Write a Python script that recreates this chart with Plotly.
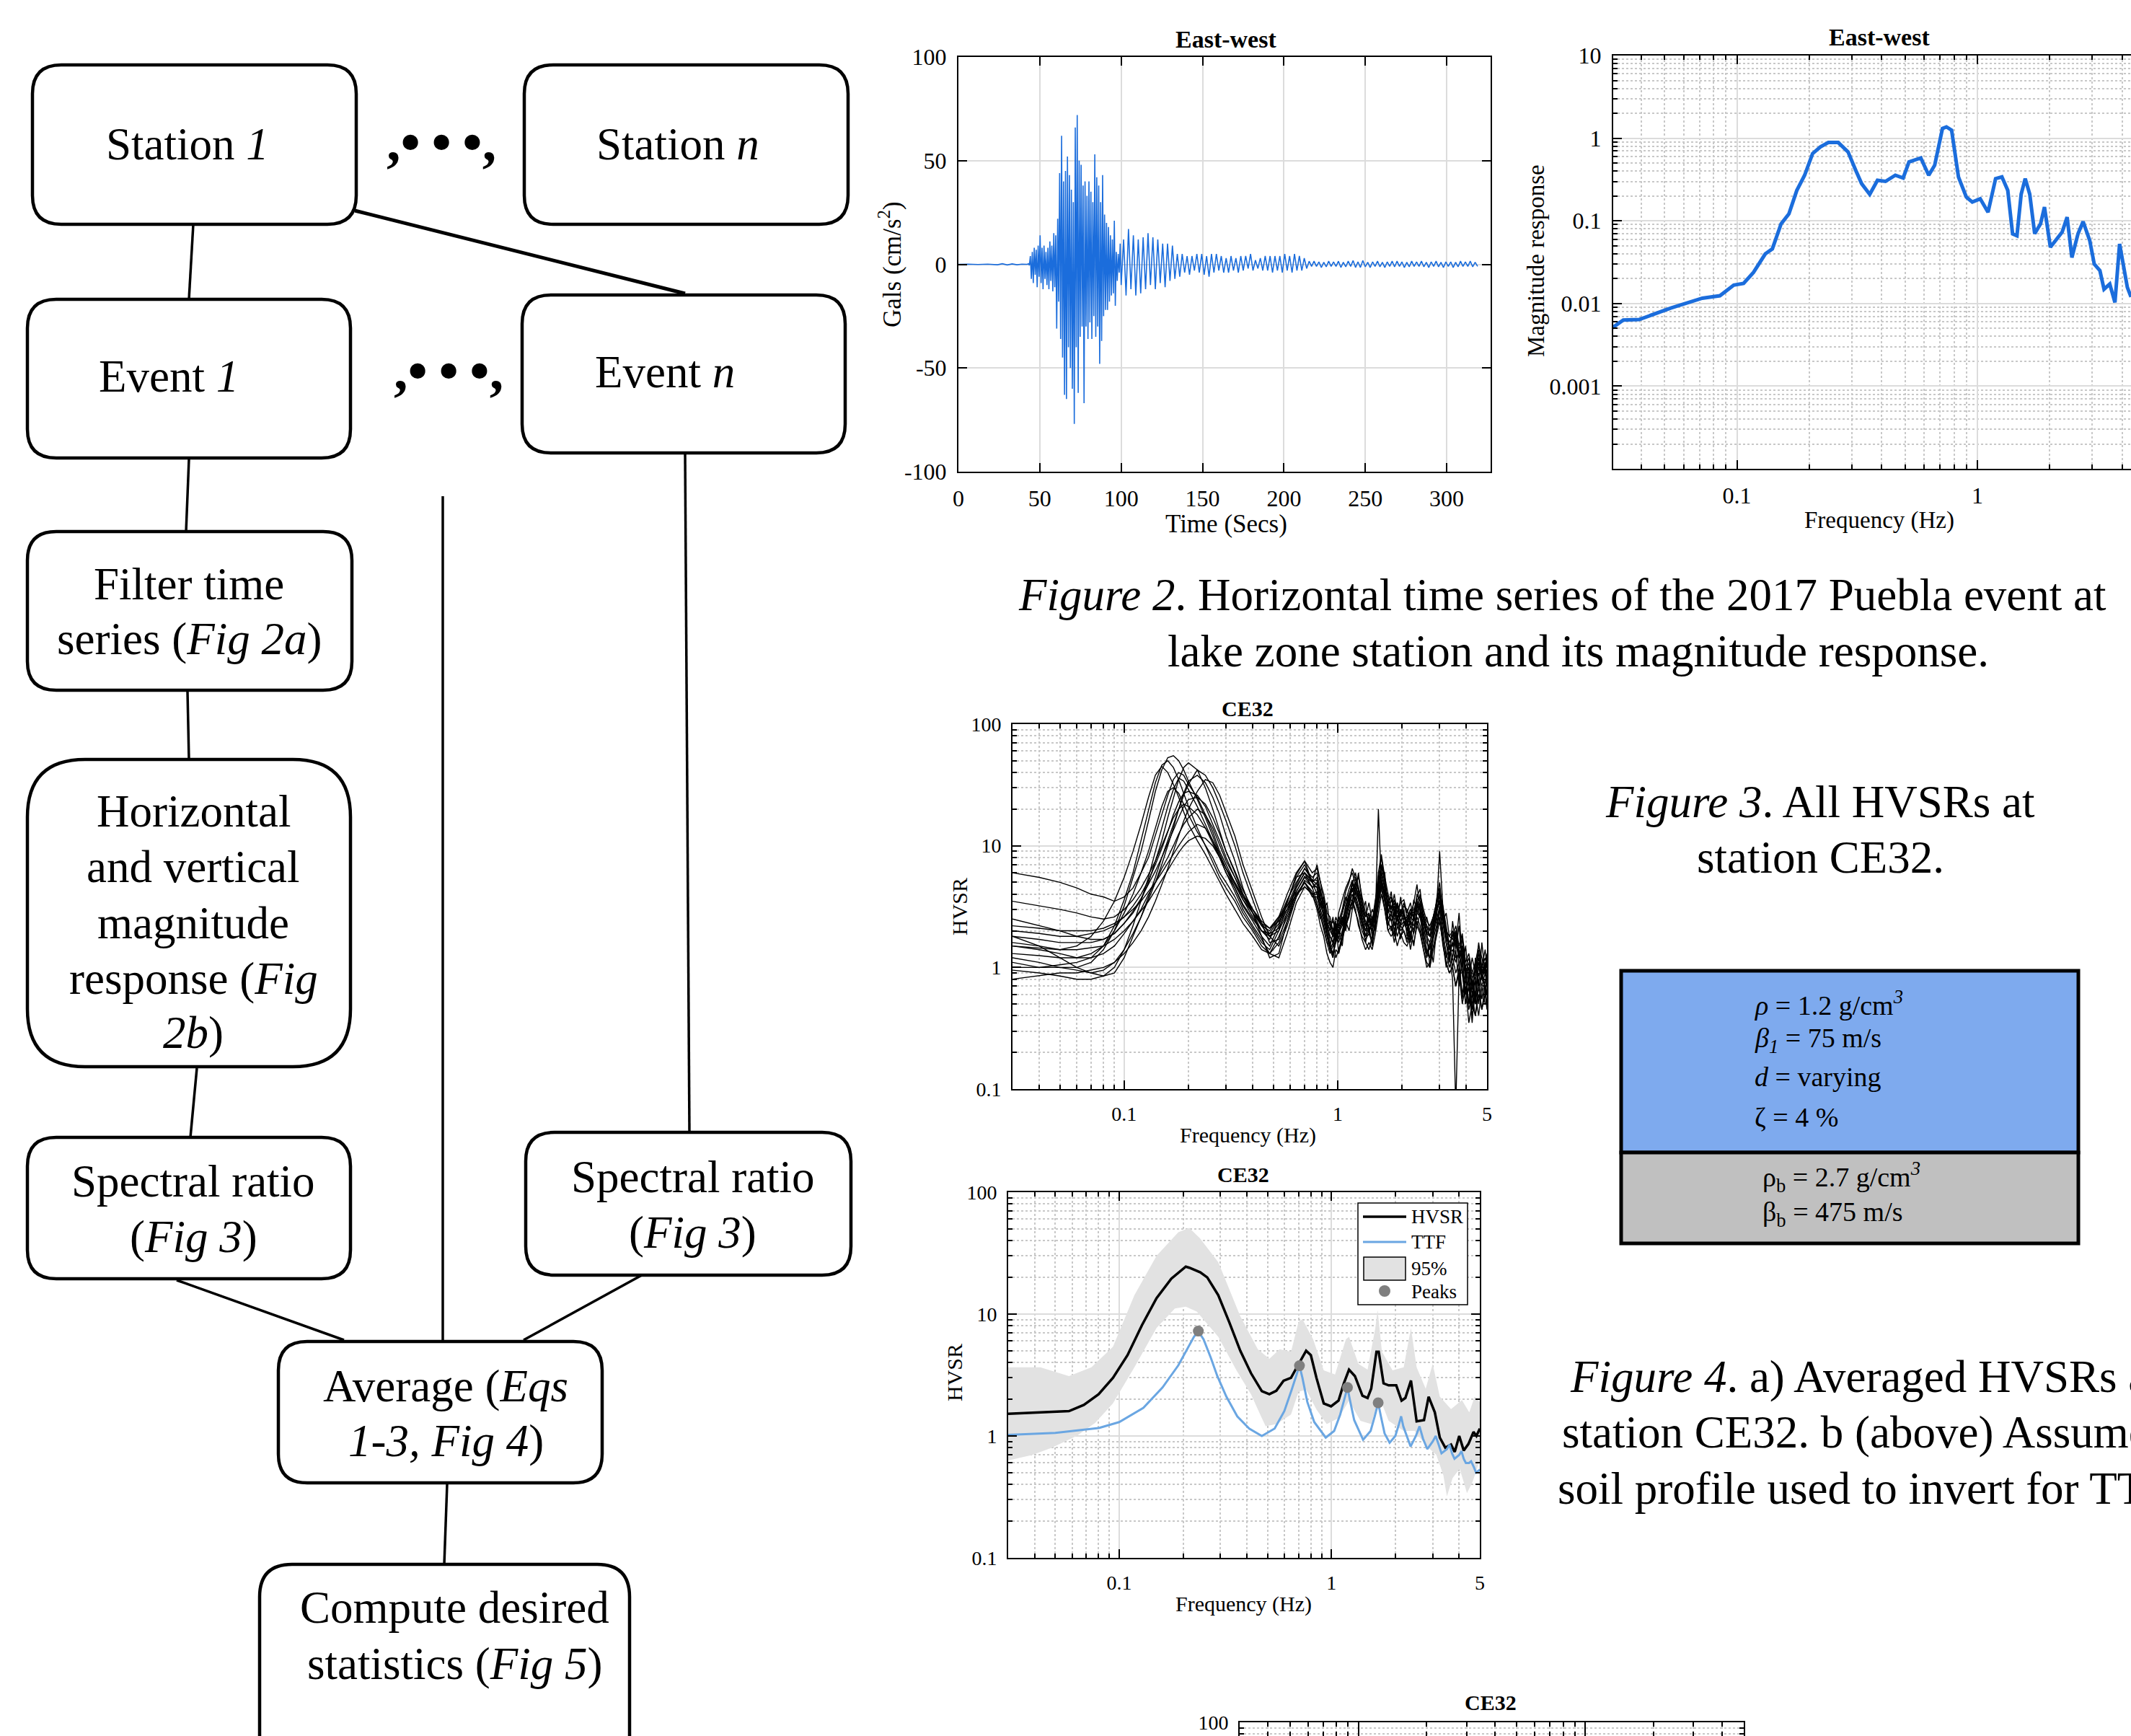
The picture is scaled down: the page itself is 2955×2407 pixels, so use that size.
import numpy as np
import plotly.graph_objects as go

W, H = 2955, 2407
SERIF = "Liberation Serif"
BLUE = "#1b6ddc"
TTF_BLUE = "#6aa6e2"
BAND_GREY = "#e2e2e2"
PEAK_GREY = "#7f7f7f"
GRID = "#dcdcdc"
MINOR_GRID = "#c8c8c8"


def X(px):
    return px / W


def Y(py):
    return 1 - py / H


# ---------------- Figure 2a: east-west acceleration record (cm/s^2) ----------------
quiet_t = [0, 6, 12, 18, 24, 27, 30, 33, 36, 39, 42.4]
quiet_acc = [0, 0.1, -0.1, 0.1, -0.2, 0.3, -0.3, 0.2, -0.2, 0.1, 0]

burst_t0, burst_dt = 43.0, 0.6
burst_acc = [0.3, -0.5, 4, -7, 6, -9, 8, -5, 7, -11, 9, -6,
             14, -9, 8, -12, 9, -7, 6, -10, 8, -12, 11, -8, 9, -13, 15, -11, 14,
             -31, 22, -18, 44, -36, 62, -45, 40, -63, 45, -65, 52, -40, 43, -50, 36,
             -60, 30, -77, 66, -40, 72, -62, 50, -35, 48, -30, 38, -67, 40, -30, 33,
             -36, 40, -28, 35, -36, 30, -25, 53, -35, 42, -30, 38, -48, 30, -37, 43,
             -25, 24, -22, 20, -22, 18, -18, 14, -15, 12, -14, 21, -20, 6, -8, 5, -4, 10]

coda_t0, coda_dt = 100.0, 1.5
coda_acc = [-10, 12, -15, 17, -12, 14, -15, 12, -14, 13, -12, 15, -10, 13, -12, 12,
            -9, 10, -11, 10, -8, 9, -7, 5, -6, 5, -4, 4, -5, 4, -3, 5, -4, 5, -5, 4,
            -6, 5, -4, 5, -3, 4, -4, 3, -4, 4, -3, 3, -4, 4, -3, 4, -2, 5, -3, 2, -2,
            3, -3, 4, -3, 4, -4, 4, -3, 4, -4, 5, -3, 4, -4, 5, -3, 4, -3, 3, -2,
            1.5, -1, 1.5, -1, 1.2, -1.5, 1, -1.2, 1.5, -1, 1.2, -1, 1.5, -1.5, 1,
            -1.2, 1.5, -1, 1.8, -1.5, 1.2, -1.5, 1.8, -1.2, 1, -1.5, 1.2, -1, 1.5,
            -1.2, 1, -1.5, 1.2, -1, 1.5, -1.2, 1.5, -1, 1.2, -1.5, 1, -1.2, 1.5, -1,
            1.2, -1, 1.5, -1.2, 1, -1.5, 1.2, -1, 1.5, -1.2, 1, -1.5, 1.2, -1, 1.2,
            -1.5, 1, -1.2, 1.5, -1, 1.2, -1, 1.5, -1.2, 1, -1]

time_s = np.concatenate([
    quiet_t,
    burst_t0 + burst_dt * np.arange(len(burst_acc)),
    coda_t0 + coda_dt * np.arange(len(coda_acc)),
])
accel = np.concatenate([quiet_acc, burst_acc, coda_acc])
keep = time_s <= 327
time_s, accel = time_s[keep], accel[keep]

# ---------------- Figure 2b: magnitude response ----------------
freq_mag = [0.0301, 0.0337, 0.0392, 0.0531, 0.0718, 0.085, 0.097, 0.1066, 0.1172,
            0.1312, 0.1404, 0.1526, 0.1645, 0.1774, 0.1912, 0.2064, 0.2226, 0.240,
            0.2638, 0.2898, 0.312, 0.330, 0.3567, 0.384, 0.4147, 0.4556, 0.491,
            0.5193, 0.5815, 0.6273, 0.664, 0.7155, 0.7433, 0.781, 0.834, 0.899,
            0.952, 1.027, 1.107, 1.19, 1.264, 1.337, 1.40, 1.46, 1.52, 1.58, 1.65,
            1.73, 1.83, 1.90, 2.01, 2.13, 2.25, 2.36, 2.47, 2.62, 2.75, 2.93, 3.06,
            3.23, 3.36, 3.55, 3.73, 3.90, 4.05, 4.2, 4.35]
mag_resp = [0.005, 0.0063, 0.0064, 0.0088, 0.0116, 0.0124, 0.0167, 0.0175, 0.0238,
            0.0398, 0.0457, 0.092, 0.1216, 0.233, 0.356, 0.652, 0.785, 0.886, 0.886,
            0.682, 0.408, 0.282, 0.209, 0.309, 0.30, 0.356, 0.33, 0.516, 0.577,
            0.356, 0.47, 1.31, 1.37, 1.25, 0.339, 0.194, 0.169, 0.185, 0.127, 0.324,
            0.34, 0.234, 0.0695, 0.066, 0.21, 0.324, 0.21, 0.07, 0.092, 0.147, 0.048,
            0.06, 0.073, 0.111, 0.036, 0.07, 0.098, 0.058, 0.030, 0.025, 0.0149,
            0.0172, 0.0103, 0.0525, 0.03, 0.0157, 0.012]

# ---------------- Figure 3: HVSR of every event at CE32 ----------------
F_EV_LOW = [0.03, 0.04, 0.05, 0.06, 0.07, 0.08, 0.09, 0.10,
            0.11, 0.12, 0.13, 0.14, 0.15, 0.16, 0.17, 0.18, 0.19, 0.20,
            0.22, 0.24, 0.26, 0.28, 0.30,
            0.33, 0.36, 0.40, 0.44, 0.48,
            0.53, 0.58, 0.64, 0.70, 0.76]
F_EV_HIGH = [0.80, 0.83, 0.86, 0.89, 0.92, 0.95, 0.98,
             1.01, 1.05, 1.09, 1.13, 1.17, 1.21, 1.25,
             1.30, 1.35, 1.40, 1.45, 1.50, 1.55, 1.60,
             1.66, 1.72, 1.78, 1.84, 1.90, 1.97, 2.04,
             2.11, 2.19, 2.27, 2.35, 2.43, 2.52, 2.61,
             2.70, 2.80, 2.90, 3.00, 3.11, 3.22, 3.33,
             3.45, 3.57, 3.70, 3.83, 3.97, 4.11, 4.26,
             4.41, 4.57, 4.73, 4.90, 5.00]

HVSR_LOW = [
    [1.2, 1.1, 1.0, 1.0, 1.1, 1.4, 2.0, 3.2, 5.5, 9, 16, 28, 42, 53, 55, 50, 42, 34,
     24, 17, 12, 8.5, 6.5, 4.5, 3.2, 2.4, 1.8, 1.5, 2.2, 3.5, 5.5, 7, 5],
    [2.5, 2.2, 2.0, 1.8, 1.7, 1.7, 1.9, 2.3, 2.8, 3.6, 5, 7.5, 11, 17, 25, 35, 44, 48,
     42, 30, 20, 13, 9, 6, 4, 2.8, 2, 1.7, 2.5, 3.2, 4.8, 6.5, 5.5],
    [1.5, 1.4, 1.3, 1.2, 1.2, 1.3, 1.5, 1.9, 2.4, 3, 4, 5, 6.5, 8, 10, 12.5, 15, 17,
     20, 18, 14, 10, 7.5, 5.5, 4, 3, 2.2, 1.8, 2.0, 2.8, 4, 5, 4.2],
    [6, 5.5, 5, 4.5, 4, 3.8, 3.5, 3.8, 4.5, 6, 8, 12, 18, 26, 35, 40, 38, 32,
     25, 18, 13, 9, 7, 5, 3.6, 2.6, 2, 1.8, 2.3, 3.5, 5.5, 6, 4.5],
    [0.8, 0.85, 0.9, 0.9, 0.95, 1.0, 1.1, 1.3, 1.6, 2, 2.6, 3.5, 4.8, 6.5, 9, 12, 16, 20,
     28, 35, 33, 26, 19, 12, 7, 4.2, 2.6, 1.8, 1.5, 2.2, 3.8, 5, 4],
    [2, 1.9, 1.8, 1.8, 1.9, 2.0, 2.2, 2.6, 3.2, 4, 5.2, 7, 9.5, 13, 18, 23, 27, 28,
     26, 21, 15, 11, 8, 5.5, 3.8, 2.8, 2.2, 2, 2.6, 4, 6, 7.5, 6],
    [1.0, 1.0, 1.05, 1.1, 1.2, 1.5, 2.2, 3.6, 6, 11, 20, 33, 46, 50, 44, 35, 27, 21,
     14, 10, 7.5, 5.5, 4.5, 3.5, 2.6, 2.0, 1.5, 1.3, 1.8, 2.6, 4, 5, 3.8],
    [1.5, 1.45, 1.4, 1.4, 1.45, 1.5, 1.7, 2.0, 2.4, 2.9, 3.5, 4.3, 5.2, 6.3, 7.5, 8.8, 10, 11,
     12, 11.5, 10, 8, 6.5, 5, 3.8, 3, 2.4, 2.1, 2.4, 3, 4, 4.6, 4],
    [1.8, 1.5, 1.2, 1.0, 0.9, 0.85, 0.9, 1.2, 1.8, 2.6, 3.8, 5.5, 8, 11, 15, 20, 26, 32,
     42, 38, 30, 22, 16, 10, 6, 3.6, 2.3, 1.6, 1.7, 2.8, 4.5, 6, 5],
    [3.5, 3.2, 3, 2.8, 2.6, 2.5, 2.6, 3, 3.6, 4.5, 5.8, 7.5, 10, 13, 17, 20, 22, 21,
     18, 14, 10.5, 8, 6, 4.5, 3.3, 2.5, 2, 1.9, 2.5, 3.6, 5, 6.5, 5.2],
    [1.3, 1.25, 1.2, 1.2, 1.3, 1.5, 2.0, 2.8, 4, 6, 9, 14, 21, 28, 30, 27, 22, 18,
     13, 10, 8, 6, 5, 3.8, 2.8, 2.1, 1.6, 1.4, 2, 3.4, 5.8, 7.5, 5],
    [1.1, 1.0, 1.0, 0.95, 0.9, 0.95, 1.1, 1.4, 1.9, 2.6, 3.6, 5, 7, 10, 14, 20, 27, 34,
     38, 33, 25, 18, 12, 7.5, 4.5, 2.8, 1.8, 1.2, 1.3, 2.4, 4.2, 5.5, 4.6],
    [1.6, 1.5, 1.4, 1.5, 1.8, 2.4, 3.5, 5.5, 9, 15, 25, 38, 45, 40, 32, 25, 19, 15,
     11, 8.5, 6.5, 5, 4, 3, 2.3, 1.8, 1.4, 1.3, 1.6, 2.4, 3.8, 5.2, 4.6],
    [2.2, 2.1, 2.0, 2.0, 2.0, 2.1, 2.3, 2.6, 3.0, 3.5, 4.2, 5.0, 6.0, 7.2, 8.6, 10, 11.5, 13,
     15, 14, 11, 8.5, 6.5, 4.8, 3.6, 2.8, 2.3, 2.1, 2.6, 3.2, 4.2, 5.6, 5.0],
    [0.95, 0.9, 0.85, 0.8, 0.8, 0.85, 1.0, 1.4, 2.2, 3.5, 5.5, 9, 14, 21, 29, 36, 34, 29,
     21, 15, 11, 8, 6, 4.2, 3.0, 2.2, 1.7, 1.3, 1.2, 1.9, 3.4, 4.6, 4.0],
    [1.8, 1.7, 1.6, 1.6, 1.6, 1.7, 1.9, 2.3, 2.9, 3.7, 4.8, 6.2, 8, 10.5, 13.5, 17, 21, 24,
     25, 22, 17, 12.5, 9, 6.2, 4.3, 3.0, 2.3, 1.9, 2.1, 3.0, 4.6, 6.0, 5.2],
]

HVSR_HIGH = [
    [4.5, 3.2, 3.8, 2.4, 2.0, 2.6, 1.6, 2.0, 1.5, 2.8, 3.6, 5.2, 4.0, 6.0,
     3.5, 2.2, 2.8, 1.8, 3.2, 5.5, 8.0, 5.0, 3.2, 4.2, 2.6, 3.4, 2.2, 3.0,
     1.8, 2.6, 3.4, 4.8, 2.9, 2.0, 1.4, 1.2, 2.2, 3.6, 5.0, 2.6, 1.6, 1.1,
     2.4, 1.5, 2.8, 1.2, 0.6, 0.9, 0.45, 1.2, 0.7, 1.6, 0.9, 1.3],
    [6.0, 4.2, 3.0, 3.4, 2.2, 1.8, 2.2, 1.7, 2.6, 2.2, 4.0, 3.4, 5.5, 4.2,
     2.8, 3.5, 1.9, 2.5, 2.0, 4.2, 6.5, 6.0, 2.8, 3.6, 3.0, 2.4, 3.8, 2.5,
     2.6, 1.6, 2.8, 3.8, 4.4, 2.4, 2.0, 1.0, 1.8, 2.6, 4.2, 3.2, 2.2, 1.5,
     1.2, 2.0, 1.0, 1.8, 0.9, 0.5, 0.8, 0.5, 1.4, 0.8, 1.1, 0.7],
    [3.2, 2.5, 2.8, 2.0, 1.5, 1.9, 2.4, 1.3, 1.9, 2.4, 2.0, 3.0, 3.8, 3.1,
     2.4, 1.6, 2.2, 1.5, 2.4, 3.4, 4.8, 3.6, 2.2, 2.8, 2.0, 2.6, 1.7, 2.4,
     2.2, 1.4, 2.0, 2.8, 3.4, 1.8, 1.3, 1.6, 1.1, 2.0, 3.0, 2.0, 1.2, 1.5,
     1.0, 1.4, 0.7, 1.2, 0.5, 0.7, 0.35, 0.8, 0.5, 1.0, 0.6, 0.8],
    [5.0, 4.4, 3.0, 2.0, 1.4, 1.2, 1.7, 2.4, 3.0, 4.2, 5.0, 6.5, 5.4, 4.4,
     3.2, 2.6, 3.4, 2.4, 3.6, 5.0, 7.0, 5.5, 4.0, 3.0, 4.0, 2.8, 3.4, 3.6,
     2.8, 3.4, 2.4, 4.0, 3.5, 2.6, 2.2, 1.8, 2.4, 3.0, 3.5, 2.4, 2.8, 1.8,
     2.0, 1.4, 2.2, 1.0, 1.5, 0.8, 1.2, 0.9, 1.6, 1.0, 1.4, 1.0],
    [4.0, 2.8, 2.2, 1.6, 1.5, 1.3, 1.8, 1.9, 2.2, 2.8, 3.4, 4.5, 3.5, 3.0,
     2.2, 1.8, 2.0, 1.6, 2.5, 3.8, 5.5, 4.0, 2.6, 2.4, 1.8, 2.6, 2.0, 2.2,
     2.4, 1.8, 2.6, 2.2, 2.8, 1.6, 1.2, 1.5, 1.8, 2.8, 2.5, 1.6, 1.0, 1.3,
     0.8, 0.07, 0.9, 0.9, 0.5, 0.7, 0.4, 0.6, 0.4, 0.7, 0.5, 0.5],
    [6.5, 5.0, 4.0, 2.8, 2.6, 2.0, 2.6, 2.2, 2.8, 3.8, 3.2, 5.0, 4.5, 5.6,
     3.8, 2.8, 2.4, 3.0, 2.6, 4.5, 6.0, 4.6, 3.8, 3.0, 3.6, 2.8, 2.6, 3.2,
     3.0, 2.2, 3.6, 3.0, 4.0, 3.0, 2.4, 2.2, 2.6, 3.4, 4.5, 2.6, 2.0, 1.6,
     1.8, 2.2, 1.5, 1.9, 1.1, 1.3, 0.9, 1.1, 1.5, 1.2, 0.9, 1.2],
    [3.8, 3.0, 2.4, 1.8, 1.4, 1.6, 1.2, 1.4, 1.8, 2.2, 2.6, 3.6, 3.0, 2.2,
     1.8, 1.6, 1.4, 1.8, 2.2, 3.2, 4.5, 3.0, 2.0, 2.2, 1.6, 2.2, 1.8, 2.0,
     1.6, 2.0, 1.5, 2.4, 2.0, 1.4, 1.0, 1.1, 1.5, 2.0, 2.6, 1.5, 1.1, 0.9,
     1.0, 0.7, 1.0, 0.55, 0.8, 0.45, 0.6, 0.4, 0.6, 0.45, 0.7, 0.5],
    [4.2, 3.6, 3.2, 2.4, 2.0, 1.8, 1.9, 2.0, 2.4, 2.0, 3.0, 3.6, 4.2, 3.6,
     2.8, 2.2, 2.0, 2.4, 3.0, 4.2, 5.0, 3.8, 3.0, 2.4, 2.8, 2.2, 2.8, 2.4,
     2.0, 2.4, 2.0, 3.0, 2.6, 2.2, 1.6, 1.4, 2.0, 2.4, 3.2, 2.2, 1.6, 1.3,
     1.4, 1.1, 1.4, 0.9, 1.0, 0.7, 0.8, 0.6, 0.9, 0.7, 0.9, 0.7],
    [5.5, 3.8, 2.6, 2.2, 1.8, 1.6, 2.2, 2.0, 1.8, 3.2, 4.0, 4.2, 5.0, 3.6,
     2.6, 2.0, 2.6, 2.0, 2.8, 4.6, 6.2, 4.4, 3.2, 3.2, 2.4, 3.2, 2.4, 2.8,
     2.2, 2.8, 3.0, 3.6, 2.6, 2.4, 1.8, 1.6, 2.2, 3.4, 3.8, 2.8, 1.8, 1.4,
     1.6, 1.9, 1.2, 1.4, 0.8, 1.0, 0.6, 0.8, 1.1, 0.8, 1.0, 0.8],
    [5.2, 4.0, 3.4, 2.6, 2.2, 2.4, 2.0, 2.6, 2.2, 3.0, 3.8, 4.8, 6.0, 4.6,
     3.4, 2.6, 2.8, 2.2, 3.0, 5.0, 6.8, 5.0, 3.4, 3.8, 2.8, 3.4, 2.8, 3.4,
     2.6, 3.0, 2.8, 3.6, 3.8, 2.8, 2.2, 2.0, 2.6, 3.2, 4.2, 3.0, 2.0, 1.8,
     1.7, 2.0, 1.4, 1.7, 1.0, 1.2, 0.8, 1.0, 1.3, 1.0, 1.2, 1.0],
    [7.0, 5.0, 3.4, 2.4, 1.6, 1.2, 1.8, 2.8, 3.6, 4.5, 5.2, 6.0, 4.8, 3.8,
     2.4, 1.8, 2.6, 2.2, 3.4, 6.0, 8.5, 5.5, 3.0, 2.8, 3.2, 2.6, 3.0, 2.6,
     2.2, 2.6, 2.4, 3.2, 3.0, 2.2, 2.6, 2.0, 2.6, 3.4, 4.0, 2.6, 1.9, 1.4,
     1.9, 1.6, 1.2, 1.5, 0.8, 1.0, 0.7, 0.9, 1.2, 0.8, 1.0, 0.8],
    [4.6, 3.5, 2.6, 1.9, 1.4, 1.3, 1.6, 2.0, 2.4, 3.2, 4.0, 4.8, 4.0, 3.2,
     2.4, 2.0, 2.0, 2.2, 2.5, 20, 5.0, 4.0, 2.5, 2.8, 2.2, 2.6, 2.2, 2.4,
     2.0, 2.4, 2.2, 2.8, 2.6, 1.8, 2.2, 1.8, 2.0, 3.0, 9.0, 3.0, 1.6, 1.2,
     1.6, 1.2, 1.3, 0.9, 0.6, 0.8, 0.5, 0.6, 1.0, 0.8, 0.7, 0.6],
    [3.4, 2.6, 2.0, 1.6, 1.3, 1.5, 1.9, 1.6, 2.0, 2.6, 3.2, 4.0, 3.4, 2.8,
     2.0, 1.7, 1.9, 1.6, 2.2, 3.6, 5.0, 3.4, 2.4, 2.0, 2.4, 1.8, 2.2, 2.0,
     1.7, 2.2, 1.9, 2.6, 2.2, 1.6, 1.3, 1.2, 1.7, 2.2, 3.0, 1.8, 1.3, 1.0,
     1.2, 0.9, 1.1, 0.6, 0.9, 0.5, 0.7, 0.5, 0.8, 0.55, 0.8, 0.6],
    [4.0, 3.2, 2.8, 2.2, 2.4, 1.9, 2.3, 2.1, 2.6, 2.4, 3.4, 3.0, 4.6, 4.0,
     3.0, 2.4, 2.2, 2.6, 2.8, 3.8, 5.2, 4.2, 3.4, 2.8, 3.2, 2.5, 2.9, 2.7,
     2.4, 2.8, 2.6, 3.3, 3.0, 2.6, 2.0, 1.8, 2.3, 2.9, 3.4, 2.4, 1.8, 1.5,
     1.5, 1.7, 1.2, 1.3, 1.0, 0.9, 0.9, 0.8, 1.1, 0.9, 1.0, 0.9],
    [3.0, 2.2, 1.8, 1.3, 1.1, 1.0, 1.4, 1.3, 1.7, 2.2, 2.8, 3.4, 2.8, 2.4,
     1.7, 1.4, 1.6, 1.4, 1.9, 2.8, 4.0, 3.0, 2.0, 1.8, 2.0, 1.5, 1.9, 1.6,
     1.5, 1.8, 1.6, 2.2, 1.9, 1.4, 1.1, 1.0, 1.4, 1.8, 2.4, 1.6, 1.1, 0.9,
     1.0, 0.7, 0.9, 0.5, 0.7, 0.35, 0.5, 0.4, 0.7, 0.45, 0.6, 0.45],
    [4.8, 3.6, 3.0, 2.2, 1.8, 1.6, 2.0, 2.2, 2.8, 3.4, 4.4, 5.2, 4.2, 3.8,
     2.8, 2.2, 2.4, 2.0, 2.8, 4.2, 6.0, 4.6, 3.4, 3.0, 3.4, 2.4, 3.0, 2.8,
     2.4, 3.0, 2.6, 3.4, 3.2, 2.4, 1.9, 1.8, 2.4, 3.0, 3.6, 2.6, 1.8, 1.5,
     1.5, 1.8, 1.3, 1.5, 0.9, 1.1, 0.7, 0.9, 1.2, 0.9, 1.1, 0.9],
]

# ---------------- Figure 4a: averaged HVSR, 95% band, theoretical TF ----------------
f_mean = [0.030, 0.0498, 0.058, 0.0682, 0.080, 0.0935, 0.1095, 0.128, 0.150, 0.176,
          0.206, 0.214, 0.241, 0.260, 0.293, 0.330, 0.372, 0.418, 0.470, 0.510,
          0.550, 0.595, 0.645, 0.700, 0.760, 0.800, 0.850, 0.920, 0.996, 1.08,
          1.144, 1.21, 1.29, 1.40, 1.48, 1.54, 1.63, 1.67, 1.76, 1.86,
          2.02, 2.14, 2.23, 2.37, 2.52, 2.73, 2.87, 3.07, 3.24, 3.44,
          3.66, 3.81, 4.0, 4.2, 4.42, 4.67, 4.82, 5.0]
hvsr_mean = [1.52, 1.58, 1.60, 1.80, 2.2, 3.0, 4.6, 8.1, 13.5, 19.5,
             24.5, 24, 22, 20, 14.3, 8.6, 5.0, 3.27, 2.33, 2.2,
             2.35, 2.84, 3.0, 3.88, 5.0, 4.6, 3.0, 1.85, 1.75, 1.95,
             2.7, 3.5, 3.1, 2.14, 2.05, 2.45, 4.9, 4.9, 2.7, 2.6,
             2.6, 1.95, 2.05, 2.85, 1.32, 1.35, 2.1, 1.56, 0.97, 0.8,
             0.85, 0.74, 1.0, 0.76, 0.86, 1.08, 1.0, 1.15]

f_upper = [0.030, 0.0425, 0.058, 0.074, 0.0935, 0.118, 0.150, 0.190, 0.214, 0.240,
           0.293, 0.372, 0.450, 0.510, 0.570, 0.645, 0.700, 0.730, 0.820, 0.920,
           1.04, 1.17, 1.21, 1.34, 1.48, 1.61, 1.65, 1.73, 1.94, 2.19,
           2.37, 2.52, 2.78, 3.0, 3.24, 3.66, 4.12, 4.46, 4.73, 5.0]
band_upper = [3.66, 3.66, 3.1, 3.66, 5.4, 14.3, 30, 47, 51, 42,
              26.7, 9.6, 5.15, 4.3, 5.15, 4.9, 8.6, 9.1, 6.2, 3.46,
              3.2, 6.2, 6.5, 3.9, 3.5, 7.7, 10.8, 4.9, 3.46, 3.66,
              7.7, 3.66, 2.44, 3.9, 2.1, 1.66, 1.97, 1.56, 2.1, 1.9]
f_lower = [0.030, 0.039, 0.048, 0.063, 0.077, 0.0935, 0.118, 0.150, 0.183, 0.206,
           0.232, 0.293, 0.357, 0.418, 0.470, 0.490, 0.550, 0.645, 0.700, 0.760,
           0.850, 0.950, 1.08, 1.21, 1.37, 1.54, 1.68, 1.86, 2.19, 2.47,
           2.78, 3.12, 3.37, 3.50, 3.72, 4.02, 4.35, 4.62, 5.0]
band_lower = [0.63, 0.70, 0.80, 1.0, 1.28, 1.85, 3.66, 7.7, 11.1, 11.5,
              10.5, 6.5, 3.46, 2.2, 1.4, 1.2, 1.25, 1.5, 2.3, 2.4,
              1.65, 1.25, 1.4, 1.95, 1.33, 1.25, 2.1, 1.33, 1.1, 1.1,
              0.84, 0.7, 0.475, 0.32, 0.45, 0.54, 0.34, 0.42, 0.63]

f_ttf = [0.03, 0.05, 0.08, 0.10, 0.13, 0.16, 0.19, 0.21, 0.225, 0.236,
         0.25, 0.27, 0.29, 0.32, 0.36, 0.41, 0.47, 0.54, 0.60, 0.65,
         0.68, 0.707, 0.73, 0.77, 0.83, 0.94, 1.03, 1.10, 1.15, 1.19,
         1.22, 1.28, 1.41, 1.53, 1.60, 1.66, 1.71, 1.78, 1.88, 2.0,
         2.08, 2.13, 2.18, 2.36, 2.5, 2.6, 2.7, 2.83, 3.0, 3.1,
         3.2, 3.3, 3.5, 3.6, 3.7, 3.8, 4.0, 4.1, 4.2, 4.3,
         4.45, 4.55, 4.7, 4.8, 5.0]
ttf = [1.02, 1.06, 1.16, 1.30, 1.70, 2.5, 3.8, 5.2, 6.5, 7.25,
       6.2, 4.4, 3.1, 2.1, 1.45, 1.15, 1.0, 1.15, 1.6, 2.4,
       3.1, 3.77, 3.0, 1.9, 1.3, 0.97, 1.1, 1.5, 2.0, 2.5,
       2.0, 1.35, 0.93, 1.1, 1.45, 1.87, 1.45, 1.05, 0.88, 1.0,
       1.25, 1.45, 1.2, 0.82, 1.0, 1.2, 0.95, 0.78, 0.9, 1.0,
       0.85, 0.72, 0.78, 0.85, 0.72, 0.65, 0.7, 0.75, 0.65, 0.6,
       0.6, 0.62, 0.55, 0.5, 0.53]

peak_f = [0.236, 0.707, 1.19, 1.66]
peak_amp = [7.25, 3.77, 2.5, 1.87]

LEGEND_NAMES = ["HVSR", "TTF", "95%", "Peaks"]

# ---------------- tick definitions ----------------
FREQ_MINOR = [0.03, 0.04, 0.05, 0.06, 0.07, 0.08, 0.09,
              0.2, 0.3, 0.4, 0.5, 0.6, 0.7, 0.8, 0.9, 2, 3, 4]
HVSR_MINOR = [k * 10.0 ** e for e in (-1, 0, 1) for k in range(2, 10)]
MAG_MINOR = [k * 10.0 ** e for e in (-4, -3, -2, -1, 0) for k in range(2, 10)]


def frame(size, **kw):
    ax = dict(showline=True, linecolor="black", linewidth=2, mirror="allticks",
              ticks="inside", ticklen=12, tickwidth=1.5, tickcolor="black",
              showgrid=True, gridcolor=GRID, gridwidth=1.5, zeroline=False,
              automargin=False, ticklabelstandoff=8,
              tickfont=dict(family=SERIF, size=size, color="black"))
    ax.update(kw)
    return ax


def log_minor(vals):
    return dict(tickvals=vals, ticks="inside", ticklen=6, tickcolor="black",
                showgrid=True, gridcolor=MINOR_GRID, griddash="dot", gridwidth=1.5)


fig = go.Figure()

fig.add_trace(go.Scatter(x=time_s, y=accel, mode="lines",
                         line=dict(color=BLUE, width=1.6), xaxis="x", yaxis="y"))
fig.add_trace(go.Scatter(x=freq_mag, y=mag_resp, mode="lines",
                         line=dict(color=BLUE, width=5), xaxis="x2", yaxis="y2"))
for lo, hi in zip(HVSR_LOW, HVSR_HIGH):
    fig.add_trace(go.Scatter(x=F_EV_LOW[:len(lo)] + F_EV_HIGH[:len(hi)], y=lo + hi,
                             mode="lines", line=dict(color="black", width=1.4),
                             xaxis="x3", yaxis="y3"))

fig.add_trace(go.Scatter(x=f_upper + f_lower[::-1], y=band_upper + band_lower[::-1],
                         mode="lines", fill="toself", fillcolor=BAND_GREY,
                         line=dict(width=0), xaxis="x4", yaxis="y4", name="95%"))
fig.add_trace(go.Scatter(x=f_mean, y=hvsr_mean, mode="lines", name="HVSR",
                         line=dict(color="black", width=3.5), xaxis="x4", yaxis="y4"))
fig.add_trace(go.Scatter(x=f_ttf, y=ttf, mode="lines", name="TTF",
                         line=dict(color=TTF_BLUE, width=3), xaxis="x4", yaxis="y4"))
fig.add_trace(go.Scatter(x=peak_f, y=peak_amp, mode="markers", name="Peaks",
                         marker=dict(color=PEAK_GREY, size=15), xaxis="x4", yaxis="y4"))
fig.add_trace(go.Scatter(x=[], y=[], xaxis="x5", yaxis="y5"))
fig.update_traces(showlegend=False)

fr = [np.log10(0.03), np.log10(5)]
fig.update_layout(
    width=W, height=H, margin=dict(l=0, r=0, t=0, b=0, autoexpand=False),
    paper_bgcolor="white", plot_bgcolor="white", hovermode=False, showlegend=False,
    xaxis=frame(32, domain=[X(1329), X(2067)], anchor="y", range=[0, 327],
                tickmode="array", tickvals=[0, 50, 100, 150, 200, 250, 300]),
    yaxis=frame(32, domain=[Y(654), Y(79)], anchor="x", range=[-100, 100],
                tickmode="array", tickvals=[-100, -50, 0, 50, 100],
                ticktext=["-100", "-50", "0", "50", "100"]),
    xaxis2=frame(32, domain=[X(2237), 1.0], anchor="y2", type="log",
                 range=[np.log10(0.0306), np.log10(4.35)],
                 tickmode="array", tickvals=[0.1, 1], ticktext=["0.1", "1"],
                 minor=log_minor(FREQ_MINOR)),
    yaxis2=frame(32, domain=[Y(650), Y(77)], anchor="x2", type="log", range=[-4, 1],
                 mirror=False, tickmode="array",
                 tickvals=[0.001, 0.01, 0.1, 1, 10],
                 ticktext=["0.001", "0.01", "0.1", "1", "10"],
                 minor=log_minor(MAG_MINOR)),
    xaxis3=frame(28, domain=[X(1404), X(2062)], anchor="y3", type="log", range=fr,
                 tickmode="array", tickvals=[0.1, 1, 5], ticktext=["0.1", "1", "5"],
                 minor=log_minor(FREQ_MINOR)),
    yaxis3=frame(28, domain=[Y(1510), Y(1004)], anchor="x3", type="log", range=[-1, 2],
                 tickmode="array", tickvals=[0.1, 1, 10, 100],
                 ticktext=["0.1", "1", "10", "100"], minor=log_minor(HVSR_MINOR)),
    xaxis4=frame(28, domain=[X(1398), X(2052)], anchor="y4", type="log", range=fr,
                 tickmode="array", tickvals=[0.1, 1, 5], ticktext=["0.1", "1", "5"],
                 minor=log_minor(FREQ_MINOR)),
    yaxis4=frame(28, domain=[Y(2160), Y(1653)], anchor="x4", type="log", range=[-1, 2],
                 tickmode="array", tickvals=[0.1, 1, 10, 100],
                 ticktext=["0.1", "1", "10", "100"], minor=log_minor(HVSR_MINOR)),
    xaxis5=frame(28, domain=[X(1719), X(2418)], anchor="y5", type="log", range=fr,
                 tickmode="array", tickvals=[0.1, 1, 5], showticklabels=False,
                 minor=log_minor(FREQ_MINOR)),
    yaxis5=frame(28, domain=[0, Y(2388)], anchor="x5", type="log", range=[1.887, 2],
                 tickmode="array", tickvals=[100], ticktext=["100"],
                 minor=log_minor([80, 90])),
)

annotations = []


def text(px, py, s, size, xanchor="center", angle=0, yanchor="middle"):
    annotations.append(dict(x=X(px), y=Y(py), xref="paper", yref="paper", text=s,
                            showarrow=False, xanchor=xanchor, yanchor=yanchor,
                            textangle=angle,
                            font=dict(family=SERIF, size=size, color="black")))


# chart titles and axis labels
text(1700, 55, "<b>East-west</b>", 34)
text(1700, 726, "Time (Secs)", 35)
text(1234, 367, "Gals (cm/s<sup>2</sup>)", 35, angle=-90)
text(2606, 51, "<b>East-west</b>", 34)
text(2606, 722, "Frequency (Hz)", 33)
text(2130, 362, "Magnitude response", 33, angle=-90)
text(1730, 982, "<b>CE32</b>", 30)
text(1730, 1574, "Frequency (Hz)", 30)
text(1330, 1257, "HVSR", 30, angle=-90)
text(1724, 1628, "<b>CE32</b>", 30)
text(1724, 2224, "Frequency (Hz)", 30)
text(1323, 1903, "HVSR", 30, angle=-90)
text(2067, 2360, "<b>CE32</b>", 30)

# captions
CAP = 63
text(1410, 825, "<i>Figure 2</i>. Horizontal time series of the 2017 Puebla event at", CAP, xanchor="left")
text(1617, 903, "lake zone station and its magnitude response.", CAP, xanchor="left")
text(2524, 1112, "<i>Figure 3</i>. All HVSRs at", CAP)
text(2524, 1189, "station CE32.", CAP)
text(2175, 1909, "<i>Figure 4</i>. a) Averaged HVSRs at", CAP, xanchor="left")
text(2164, 1986, "station CE32. b (above) Assumed", CAP, xanchor="left")
text(2158, 2064, "soil profile used to invert for TTF.", CAP, xanchor="left")

# soil profile text
SOIL = 38
text(2431, 1391, "<i>ρ</i> = 1.2 g/cm<sup><i>3</i></sup>", SOIL, xanchor="left")
text(2431, 1442, "<i>β<sub>1</sub></i> = 75 m/s", SOIL, xanchor="left")
text(2431, 1493, "<i>d</i> = varying", SOIL, xanchor="left")
text(2431, 1549, "ζ = 4 %", SOIL, xanchor="left")
text(2442, 1632, "ρ<sub>b</sub> = 2.7 g/cm<sup><i>3</i></sup>", SOIL, xanchor="left")
text(2442, 1683, "β<sub>b</sub> = 475 m/s", SOIL, xanchor="left")

# flowchart labels
FC = 63
DOTS = "<b>,•\u2009•\u2009•,</b>"
text(260, 200, "Station <i>1</i>", FC)
text(612, 196, DOTS, 78)
text(940, 200, "Station <i>n</i>", FC)
text(234, 522, "Event <i>1</i>", FC)
text(622, 514, DOTS, 78)
text(922, 516, "Event <i>n</i>", FC)
text(262, 810, "Filter time", FC)
text(262, 886, "series (<i>Fig 2a</i>)", FC)
for yy, s in zip([1125, 1202, 1280, 1357, 1432],
                 ["Horizontal", "and vertical", "magnitude", "response (<i>Fig</i>", "<i>2b</i>)"]):
    text(268, yy, s, FC)
text(268, 1638, "Spectral ratio", FC)
text(268, 1715, "(<i>Fig 3</i>)", FC)
text(961, 1632, "Spectral ratio", FC)
text(961, 1709, "(<i>Fig 3</i>)", FC)
text(618, 1922, "Average (<i>Eqs</i>", FC)
text(618, 1998, "<i>1-3, Fig 4</i>)", FC)
text(630, 2229, "Compute desired", FC)
text(630, 2307, "statistics (<i>Fig 5</i>)", FC)

shapes = []


def rrect(x0, y0, x1, y1, r, width=4.5):
    path = (f"M {X(x0 + r)},{Y(y0)} L {X(x1 - r)},{Y(y0)} Q {X(x1)},{Y(y0)} {X(x1)},{Y(y0 + r)} "
            f"L {X(x1)},{Y(y1 - r)} Q {X(x1)},{Y(y1)} {X(x1 - r)},{Y(y1)} "
            f"L {X(x0 + r)},{Y(y1)} Q {X(x0)},{Y(y1)} {X(x0)},{Y(y1 - r)} "
            f"L {X(x0)},{Y(y0 + r)} Q {X(x0)},{Y(y0)} {X(x0 + r)},{Y(y0)} Z")
    shapes.append(dict(type="path", path=path, xref="paper", yref="paper",
                       line=dict(color="black", width=width), fillcolor="rgba(0,0,0,0)"))


def seg(x0, y0, x1, y1, width=3.5, color="black"):
    shapes.append(dict(type="line", x0=X(x0), y0=Y(y0), x1=X(x1), y1=Y(y1),
                       xref="paper", yref="paper", line=dict(color=color, width=width)))


def box(x0, y0, x1, y1, fill, width, layer="above"):
    shapes.append(dict(type="rect", x0=X(x0), x1=X(x1), y0=Y(y0), y1=Y(y1),
                       xref="paper", yref="paper", fillcolor=fill,
                       line=dict(color="black", width=width), layer=layer))


# flowchart boxes
rrect(45, 90, 494, 311, 40)
rrect(727, 90, 1176, 311, 40)
rrect(38, 415, 486, 635, 40)
rrect(724, 409, 1172, 628, 40)
rrect(38, 737, 488, 957, 40)
rrect(38, 1053, 486, 1479, 80)
rrect(38, 1577, 486, 1773, 40)
rrect(729, 1570, 1180, 1768, 40)
rrect(386, 1860, 835, 2056, 40)
rrect(360, 2169, 873, 2460, 45)

# flowchart connectors
seg(268, 311, 262, 415)
seg(492, 292, 950, 407, 5)
seg(262, 637, 258, 737)
seg(950, 629, 956, 1570)
seg(614, 688, 614, 1858)
seg(260, 959, 262, 1053)
seg(273, 1481, 264, 1577)
seg(245, 1775, 477, 1858)
seg(890, 1768, 726, 1858)
seg(620, 2058, 616, 2169)

# soil profile layers
box(2248, 1346, 2882, 1598, "#7eaaee", 5, layer="below")
box(2248, 1598, 2882, 1724, "#c0c0c0", 5, layer="below")

# key for the averaged-HVSR panel
box(1883, 1668, 2035, 1809, "white", 1.5)
seg(1890, 1687, 1950, 1687, 3.5, "black")
seg(1890, 1722, 1950, 1722, 3, TTF_BLUE)
box(1891, 1743, 1949, 1775, BAND_GREY, 1.5)
shapes.append(dict(type="circle", x0=X(1912), x1=X(1928), y0=Y(1782), y1=Y(1798),
                   xref="paper", yref="paper", fillcolor=PEAK_GREY,
                   line=dict(color=PEAK_GREY, width=0)))
for yy, name in zip([1687, 1722, 1759, 1791], LEGEND_NAMES):
    text(1955, yy, name, 27, xanchor="left")

fig.update_layout(annotations=annotations, shapes=shapes)
fig.write_html("out.html")
